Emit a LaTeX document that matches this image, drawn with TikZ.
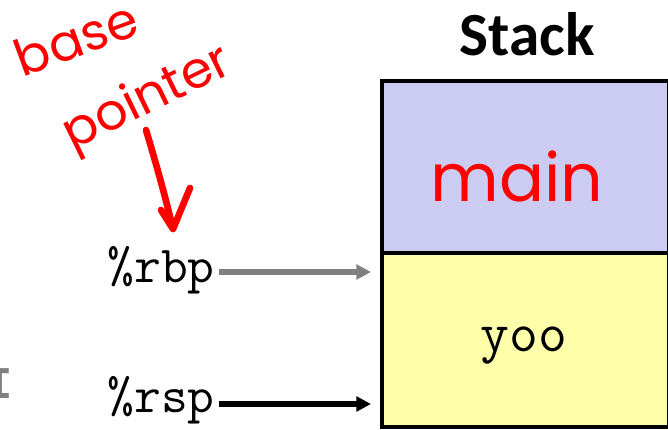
\documentclass[tikz,border=0pt]{standalone}
\usepackage{fontspec}
\setmainfont{Liberation Sans}
\newfontfamily\titlefont{Carlito}
\newfontfamily\inkfont{Poppins}
\newfontfamily\cutfont{Liberation Mono}
\usetikzlibrary{arrows.meta}

\definecolor{mainfill}{RGB}{204,204,242}
\definecolor{yoofill}{RGB}{255,255,170}
\definecolor{inkred}{RGB}{255,0,0}
\definecolor{ptrgray}{RGB}{128,128,128}

\tikzset{
  frame/.style={draw=black, line width=3pt, inner sep=0pt, anchor=north west},
  reg/.style={font=\ttfamily\fontsize{39}{39}\selectfont, inner sep=0.75pt, anchor=east},
  ptr/.style={line width=3.8pt, -{Triangle[length=11pt,width=11pt]}},
  ink/.style={color=inkred, font=\inkfont\fontsize{38}{38}\selectfont, inner sep=0pt},
  inkline/.style={draw=inkred, line width=5pt, line cap=round, line join=round}
}

\begin{document}
\begin{tikzpicture}[x=0.75pt,y=0.75pt,yscale=-1,xscale=1]
\useasboundingbox (0,0) rectangle (668,429);

%Shape: Rectangle [main frame]
\node [frame, fill=mainfill, minimum width=287*0.75pt, minimum height=172*0.75pt] (mainbox) at (380,79) {};
%Shape: Rectangle [yoo frame]
\node [frame, fill=yoofill, minimum width=287*0.75pt, minimum height=174*0.75pt] (yoobox) at (380,251) {};

% Text Node
\node [font=\titlefont\bfseries\fontsize{46}{46}\selectfont, inner sep=0pt] (title) at (527,34) {Stack};
% Text Node
\node [ink, font=\inkfont\fontsize{50}{50}\selectfont] (mainlbl) at (517,176) {main};
% Text Node
\node [font=\ttfamily\fontsize{42}{42}\selectfont, inner sep=0pt] (yoolbl) at (524,346) {yoo};

% Text Node
\node [reg] (rbp) at (216,270) {\%rbp};
% Text Node
\node [reg] (rsp) at (216,400) {\%rsp};
% Text Node
\node [font=\cutfont\bfseries\fontsize{34}{34}\selectfont, text=ptrgray, inner sep=0pt, anchor=east] (cut) at (13,384) {I};

%Straight Lines
\coordinate (rbpend) at (371,272);
\coordinate (rspend) at (371,404);
\draw [ptr, color=ptrgray] ([xshift=2pt]rbp.east |- rbpend) -- (rbpend);
\draw [ptr, color=black] ([xshift=2pt]rsp.east |- rspend) -- (rspend);

% Text Node
\node [ink, rotate=20] (base) at (76,38) {base};
% Text Node
\node [ink, rotate=26] (pointer) at (148,100) {pointer};

%Curve Lines
\coordinate (inktail) at (146,130);
\coordinate (inktip) at (173,229);
\draw [inkline] (inktail) .. controls (155,160) and (165,195) .. (inktip);
\draw [inkline] (161,210) -- (inktip) -- (190,188);

\end{tikzpicture}
\end{document}
